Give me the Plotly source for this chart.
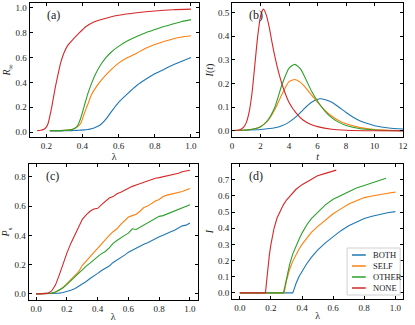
import plotly.graph_objects as go
from plotly.subplots import make_subplots

# ---- colours / series names
names = ["BOTH", "SELF", "OTHER", "NONE"]
colors = {"BOTH": "#1f77b4", "SELF": "#ff7f0e", "OTHER": "#2ca02c", "NONE": "#d62728"}

# ---- (a) final epidemic size R_inf vs lambda
lam_a_none = [0.15, 0.17, 0.19, 0.20, 0.21, 0.22, 0.23, 0.24, 0.25, 0.26, 0.28, 0.30,
              0.32, 0.35, 0.38, 0.42, 0.46, 0.50, 0.55, 0.60, 0.70, 0.80, 0.90, 1.00]
ra_none = [0.012, 0.015, 0.025, 0.04, 0.07, 0.13, 0.20, 0.28, 0.36, 0.43, 0.56, 0.645,
           0.70, 0.75, 0.795, 0.85, 0.885, 0.905, 0.925, 0.94, 0.96, 0.975, 0.985, 0.99]
lam_a = [0.22, 0.26, 0.30, 0.33, 0.35, 0.37, 0.39, 0.41, 0.43, 0.45, 0.47, 0.50,
         0.53, 0.56, 0.60, 0.65, 0.70, 0.75, 0.80, 0.85, 0.90, 0.95, 1.00]
ra_other = [0.012, 0.012, 0.014, 0.018, 0.026, 0.045, 0.11, 0.21, 0.31, 0.39, 0.46, 0.54,
            0.60, 0.645, 0.69, 0.735, 0.77, 0.80, 0.825, 0.85, 0.87, 0.89, 0.905]
ra_self = [0.012, 0.012, 0.014, 0.018, 0.025, 0.04, 0.07, 0.15, 0.225, 0.30, 0.35, 0.41,
           0.46, 0.505, 0.555, 0.60, 0.635, 0.675, 0.705, 0.73, 0.75, 0.765, 0.775]
ra_both = [0.01, 0.01, 0.011, 0.012, 0.013, 0.014, 0.016, 0.018, 0.022, 0.028, 0.038, 0.06,
           0.105, 0.165, 0.24, 0.31, 0.375, 0.425, 0.47, 0.505, 0.54, 0.57, 0.60]

# ---- (b) infected fraction I(t) vs t
t_none = [0, 0.5, 0.8, 1.0, 1.2, 1.4, 1.6, 1.8, 2.0, 2.2, 2.4, 2.6, 2.8, 3.0, 3.3, 3.6,
          4.0, 4.5, 5.0, 5.5, 6.0, 7.0, 8.0, 10.0, 12.0]
it_none = [0.002, 0.004, 0.015, 0.035, 0.08, 0.16, 0.28, 0.40, 0.485, 0.514, 0.49, 0.44,
           0.375, 0.315, 0.24, 0.18, 0.12, 0.075, 0.045, 0.028, 0.018, 0.007, 0.003, 0.0005, 0.0]
t_mid = [0, 1, 1.5, 2, 2.5, 3, 3.5, 4, 4.4, 4.8, 5.2, 5.6, 6, 6.5, 7, 7.5, 8, 9, 10, 11, 12]
it_other = [0.002, 0.004, 0.008, 0.018, 0.045, 0.10, 0.195, 0.265, 0.281, 0.262, 0.215, 0.165,
            0.125, 0.085, 0.055, 0.036, 0.023, 0.009, 0.004, 0.002, 0.001]
it_self = [0.002, 0.004, 0.008, 0.018, 0.042, 0.09, 0.155, 0.208, 0.217, 0.205, 0.18, 0.15,
           0.12, 0.088, 0.062, 0.043, 0.03, 0.014, 0.006, 0.003, 0.002]
t_both = [0, 1, 2, 3, 3.5, 4, 4.5, 5, 5.5, 6, 6.2, 6.5, 7, 7.5, 8, 8.5, 9, 9.5, 10, 11, 12]
it_both = [0.002, 0.003, 0.006, 0.013, 0.022, 0.037, 0.06, 0.09, 0.118, 0.134, 0.136, 0.133,
           0.121, 0.10, 0.078, 0.058, 0.042, 0.031, 0.022, 0.012, 0.008]

# ---- (c) P_s vs lambda (simulation, step 0.025)
lam_c = [i / 40 for i in range(41)]
pc_none = [0, 0, 0, 0.003, 0.02, 0.06, 0.13, 0.21, 0.28, 0.345, 0.40, 0.445, 0.51, 0.54,
           0.565, 0.58, 0.585, 0.61, 0.635, 0.655, 0.665, 0.685, 0.695, 0.71, 0.72, 0.735,
           0.745, 0.755, 0.765, 0.775, 0.78, 0.79, 0.795, 0.80, 0.81, 0.815, 0.82, 0.825,
           0.835, 0.84, 0.845]
pc_self = [0, 0, 0, 0.001, 0.004, 0.012, 0.025, 0.045, 0.07, 0.095, 0.12, 0.15, 0.195, 0.225,
           0.255, 0.285, 0.31, 0.34, 0.37, 0.40, 0.425, 0.445, 0.475, 0.50, 0.525, 0.535,
           0.545, 0.565, 0.59, 0.60, 0.62, 0.635, 0.645, 0.665, 0.675, 0.68, 0.685, 0.69,
           0.70, 0.71, 0.72]
pc_other = [0, 0, 0, 0.001, 0.005, 0.013, 0.025, 0.042, 0.065, 0.09, 0.115, 0.14, 0.17, 0.19,
            0.21, 0.235, 0.255, 0.275, 0.29, 0.315, 0.345, 0.365, 0.385, 0.40, 0.415, 0.445,
            0.44, 0.455, 0.475, 0.485, 0.50, 0.515, 0.53, 0.535, 0.545, 0.555, 0.57, 0.575,
            0.585, 0.60, 0.61]
pc_both = [0, 0, 0, 0, 0, 0.002, 0.005, 0.009, 0.015, 0.025, 0.035, 0.05, 0.065, 0.085,
           0.105, 0.12, 0.14, 0.16, 0.175, 0.19, 0.215, 0.23, 0.25, 0.265, 0.285, 0.30,
           0.315, 0.33, 0.34, 0.35, 0.365, 0.38, 0.39, 0.40, 0.415, 0.425, 0.435, 0.45,
           0.465, 0.47, 0.485]

# ---- (d) I vs lambda (mean field)
lam_d_none = [0, 0.165, 0.17, 0.18, 0.19, 0.20, 0.22, 0.24, 0.26, 0.28, 0.30, 0.33, 0.36,
              0.40, 0.45, 0.50, 0.55, 0.60, 0.62]
id_none = [0, 0, 0.05, 0.15, 0.235, 0.30, 0.40, 0.465, 0.51, 0.545, 0.575, 0.61, 0.64,
           0.67, 0.70, 0.725, 0.74, 0.755, 0.76]
lam_d_other = [0, 0.28, 0.29, 0.30, 0.32, 0.34, 0.36, 0.38, 0.40, 0.43, 0.46, 0.50, 0.55,
               0.60, 0.65, 0.70, 0.75, 0.80, 0.85, 0.90, 0.94]
id_other = [0, 0, 0.04, 0.09, 0.175, 0.24, 0.29, 0.33, 0.37, 0.42, 0.46, 0.50, 0.545,
            0.58, 0.605, 0.63, 0.65, 0.665, 0.68, 0.695, 0.71]
lam_d_self = [0, 0.285, 0.30, 0.32, 0.34, 0.36, 0.38, 0.40, 0.43, 0.46, 0.50, 0.55, 0.60,
              0.65, 0.70, 0.75, 0.80, 0.85, 0.90, 0.95, 1.0]
id_self = [0, 0, 0.075, 0.145, 0.195, 0.235, 0.27, 0.30, 0.34, 0.375, 0.41, 0.45, 0.49,
           0.52, 0.55, 0.57, 0.59, 0.60, 0.61, 0.617, 0.624]
lam_d_both = [0, 0.34, 0.35, 0.36, 0.38, 0.40, 0.43, 0.46, 0.50, 0.55, 0.60, 0.65, 0.70,
              0.75, 0.80, 0.85, 0.90, 0.95, 1.0]
id_both = [0, 0, 0.025, 0.055, 0.10, 0.135, 0.18, 0.22, 0.265, 0.31, 0.35, 0.385, 0.415,
           0.44, 0.46, 0.475, 0.487, 0.496, 0.503]

panels = {
    (1, 1): {"BOTH": (lam_a, ra_both), "SELF": (lam_a, ra_self),
             "OTHER": (lam_a, ra_other), "NONE": (lam_a_none, ra_none)},
    (1, 2): {"BOTH": (t_both, it_both), "SELF": (t_mid, it_self),
             "OTHER": (t_mid, it_other), "NONE": (t_none, it_none)},
    (2, 1): {"BOTH": (lam_c, pc_both), "SELF": (lam_c, pc_self),
             "OTHER": (lam_c, pc_other), "NONE": (lam_c, pc_none)},
    (2, 2): {"BOTH": (lam_d_both, id_both), "SELF": (lam_d_self, id_self),
             "OTHER": (lam_d_other, id_other), "NONE": (lam_d_none, id_none)},
}
# smooth analytic curves in (a) and (b); raw simulation/threshold curves stay linear
smooth = {(1, 1), (1, 2)}

fig = make_subplots(rows=2, cols=2)
for (r, c), series in panels.items():
    for name in names:
        x, y = series[name]
        line = dict(color=colors[name], width=1.1)
        if (r, c) in smooth:
            line.update(shape="spline", smoothing=0.6)
        fig.add_trace(go.Scatter(x=x, y=y, mode="lines", name=name, line=line,
                                 showlegend=False), row=r, col=c)

W, H = 415, 325


def px_x(a, b):
    return [a / W, b / W]


def px_y(top, bottom):
    return [1 - bottom / H, 1 - top / H]


serif = "Liberation Serif, Times New Roman, serif"
axis_common = dict(
    showline=True, linecolor="black", linewidth=1, mirror="ticks",
    ticks="inside", ticklen=3, tickwidth=0.8, tickcolor="black",
    showgrid=False, zeroline=False,
    tickfont=dict(family=serif, size=9, color="#222"),
    title_font=dict(family=serif, size=10, color="#222"),
)

fig.update_layout(
    width=W, height=H,
    margin=dict(l=0, r=0, t=0, b=0),
    paper_bgcolor="white", plot_bgcolor="white",
    font=dict(family=serif, size=9, color="#222"),
    showlegend=False,
    xaxis=dict(domain=px_x(28, 200), range=[0.1075, 1.0425], tickvals=[0.2, 0.4, 0.6, 0.8, 1.0],
               tickformat=".1f", title=dict(text="λ", standoff=0), **axis_common),
    yaxis=dict(domain=px_y(3, 137), range=[-0.039, 1.039], tickvals=[0, 0.2, 0.4, 0.6, 0.8, 1.0],
               tickformat=".1f", title=dict(text="<i>R</i><sub>∞</sub>", standoff=2), **axis_common),
    xaxis2=dict(domain=px_x(234, 408), range=[0, 12], tickvals=[0, 2, 4, 6, 8, 10, 12],
                title=dict(text="<i>t</i>", standoff=0), **axis_common),
    yaxis2=dict(domain=px_y(3, 137), range=[-0.0257, 0.54], tickvals=[0, 0.1, 0.2, 0.3, 0.4, 0.5],
                tickformat=".1f", title=dict(text="<i>I</i>(<i>t</i>)", standoff=2), **axis_common),
    xaxis3=dict(domain=px_x(27, 199), range=[-0.05, 1.05], tickvals=[0, 0.2, 0.4, 0.6, 0.8, 1.0],
                tickformat=".1f", title=dict(text="λ", standoff=0), **axis_common),
    yaxis3=dict(domain=px_y(164, 300), range=[-0.042, 0.888], tickvals=[0, 0.2, 0.4, 0.6, 0.8],
                tickformat=".1f", title=dict(text="<i>P</i><sub>s</sub>", standoff=2), **axis_common),
    xaxis4=dict(domain=px_x(234, 408), range=[-0.05, 1.05], tickvals=[0, 0.2, 0.4, 0.6, 0.8, 1.0],
                tickformat=".1f", title=dict(text="λ", standoff=0), **axis_common),
    yaxis4=dict(domain=px_y(164, 299), range=[-0.038, 0.798],
                tickvals=[0, 0.1, 0.2, 0.3, 0.4, 0.5, 0.6, 0.7],
                tickformat=".1f", title=dict(text="<i>I</i>", standoff=2), **axis_common),
)

for i, lab in enumerate(["(a)", "(b)", "(c)", "(d)"]):
    suffix = "" if i == 0 else str(i + 1)
    fig.add_annotation(
        text=lab, xref=f"x{suffix} domain", yref=f"y{suffix} domain",
        x=0.09, y=0.91, xanchor="left", yanchor="middle", showarrow=False,
        font=dict(family=serif, size=12, color="#222"),
    )

# compact legend for panel (d), drawn in paper pixels
fig.add_shape(type="rect", xref="paper", yref="paper",
              x0=351 / W, x1=405 / W, y0=1 - 295 / H, y1=1 - 248 / H,
              line=dict(color="#d0d0d0", width=1), fillcolor="rgba(255,255,255,0.85)")
for k, name in enumerate(names):
    yy = 1 - (255 + 11 * k) / H
    fig.add_shape(type="line", xref="paper", yref="paper",
                  x0=356 / W, x1=370 / W, y0=yy, y1=yy,
                  line=dict(color=colors[name], width=1.5))
    fig.add_annotation(text=name, xref="paper", yref="paper", x=375 / W, y=yy,
                       xanchor="left", yanchor="middle", showarrow=False,
                       font=dict(family=serif, size=8.5, color="#222"))

fig.write_html("out.html", config={"displayModeBar": False},
               post_script="document.body.style.margin='0';")
